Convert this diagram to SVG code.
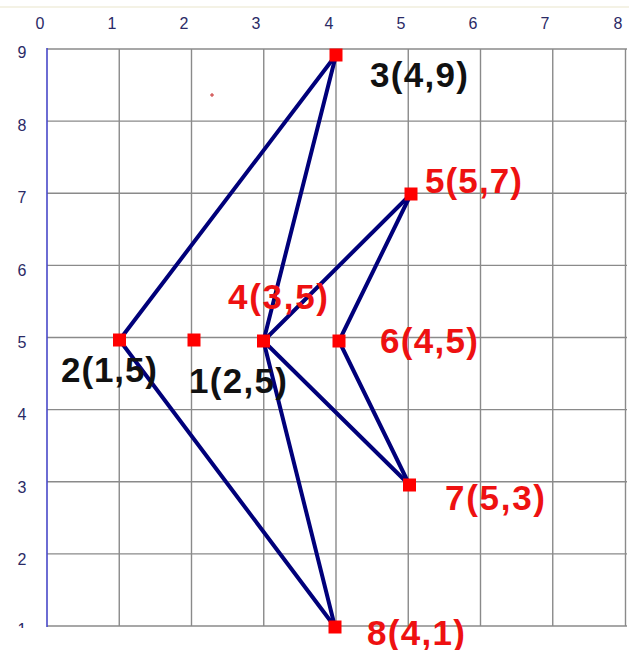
<svg xmlns="http://www.w3.org/2000/svg" width="629" height="650" viewBox="0 0 629 650">
<style>
.grid{stroke:#8a8a8a;stroke-width:1.4;fill:none}
.axis{font-family:"Liberation Sans",Arial,sans-serif;font-size:16px;fill:#2a2a66;text-anchor:middle}
.edge{stroke:#00007a;stroke-width:4;stroke-linecap:round;fill:none}
.pt{fill:#ff0000}
.lbl{font-family:"Liberation Sans",Arial,sans-serif;font-size:35px;font-weight:bold}
.red{fill:#ee1111}
.blk{fill:#111111}
</style>
<defs>
<clipPath id="cb"><rect x="0" y="618" width="60" height="10"/></clipPath>
</defs>
<rect width="629" height="650" fill="#ffffff"/>
<line x1="0" y1="7" x2="629" y2="7" stroke="#f0eedc" stroke-width="1.5"/>
<g id="grid">
<path class="grid" d="M119.25 49V626M191.5 49V626M263.75 49V626M336 49V626M408.25 49V626M480.5 49V626M552.75 49V626M625.5 49V626"/>
<path class="grid" d="M47 49H627M47 121.1H627M47 193.25H627M47 265.4H627M47 337.5H627M47 409.6H627M47 481.75H627M47 553.9H627M47 626H627"/>
<line x1="47" y1="48" x2="47" y2="627" stroke="#4848c8" stroke-width="1.6"/>
</g>
<g id="xlabels" class="axis">
<text x="40" y="29">0</text><text x="112" y="29">1</text><text x="184" y="29">2</text><text x="256" y="29">3</text><text x="329" y="29">4</text><text x="401" y="29">5</text><text x="473" y="29">6</text><text x="545" y="29">7</text><text x="618" y="29">8</text>
</g>
<g id="ylabels" class="axis">
<text x="22" y="58">9</text><text x="22" y="131">8</text><text x="22" y="203">7</text><text x="22" y="276">6</text><text x="22" y="348">5</text><text x="22" y="420">4</text><text x="22" y="493">3</text><text x="22" y="565">2</text>
<text x="22" y="635" clip-path="url(#cb)">1</text>
</g>
<path d="M210 95H214M212 93V97" stroke="#c83030" stroke-width="1"/>
<g id="connectors">
<line class="edge" x1="119.5" y1="340" x2="336" y2="55"/>
<line class="edge" x1="336" y1="55" x2="263.5" y2="341"/>
<line class="edge" x1="119.5" y1="340" x2="335" y2="627"/>
<line class="edge" x1="263.5" y1="341" x2="335" y2="627"/>
<line class="edge" x1="263.5" y1="341" x2="411" y2="194"/>
<line class="edge" x1="263.5" y1="341" x2="409.5" y2="485"/>
<line class="edge" x1="411" y1="194" x2="339" y2="341"/>
<line class="edge" x1="339" y1="341" x2="409.5" y2="485"/>
</g>
<g id="n1"><rect class="pt" x="187.5" y="333.5" width="13" height="13"/><text class="lbl blk" x="189" y="393" textLength="98">1(2,5)</text></g>
<g id="n2"><rect class="pt" x="113" y="333.5" width="13" height="13"/><text class="lbl blk" x="61" y="382" textLength="96">2(1,5)</text></g>
<g id="n3"><rect class="pt" x="329.5" y="48.5" width="13" height="13"/><text class="lbl blk" x="370" y="87" textLength="98">3(4,9)</text></g>
<g id="n4"><rect class="pt" x="257" y="334.5" width="13" height="13"/><text class="lbl red" x="228" y="309" textLength="100">4(3,5)</text></g>
<g id="n5"><rect class="pt" x="404.5" y="187.5" width="13" height="13"/><text class="lbl red" x="425" y="193" textLength="97">5(5,7)</text></g>
<g id="n6"><rect class="pt" x="332.5" y="334.5" width="13" height="13"/><text class="lbl red" x="380" y="353" textLength="98">6(4,5)</text></g>
<g id="n7"><rect class="pt" x="403" y="478.5" width="13" height="13"/><text class="lbl red" x="445" y="510" textLength="100">7(5,3)</text></g>
<g id="n8"><rect class="pt" x="328.5" y="620.5" width="13" height="13"/><text class="lbl red" x="367" y="645" textLength="98">8(4,1)</text></g>
</svg>
